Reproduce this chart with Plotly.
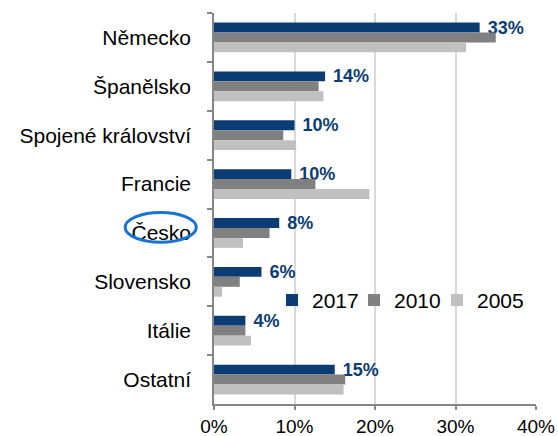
import plotly.graph_objects as go

categories = ["Německo", "Španělsko", "Spojené království", "Francie",
              "Česko", "Slovensko", "Itálie", "Ostatní"]
share_2017 = [33.0, 13.8, 10.0, 9.6, 8.1, 5.9, 3.9, 15.0]
share_2010 = [35.0, 13.0, 8.6, 12.6, 6.9, 3.2, 3.9, 16.3]
share_2005 = [31.3, 13.6, 10.2, 19.3, 3.6, 1.0, 4.6, 16.1]
x_ticks = [0, 10, 20, 30, 40]
x_tick_labels = ["0%", "10%", "20%", "30%", "40%"]

C2017 = "#0B3D74"
C2010 = "#808080"
C2005 = "#C0C0C0"
FONT = "Arial, Liberation Sans, sans-serif"

fig = go.Figure()
fig.add_trace(go.Bar(
    y=categories, x=share_2017, name="2017", orientation="h",
    marker=dict(color=C2017, line=dict(width=0)),
    texttemplate=" %{x:.0f}%", textposition="outside", cliponaxis=False,
    constraintext="none",
    textfont=dict(family=FONT, size=18, color=C2017, weight="bold"),
    legend="legend",
))
fig.add_trace(go.Bar(
    y=categories, x=share_2010, name="2010", orientation="h",
    marker=dict(color=C2010, line=dict(width=0)),
    legend="legend2",
))
fig.add_trace(go.Bar(
    y=categories, x=share_2005, name="2005", orientation="h",
    marker=dict(color=C2005, line=dict(width=0)),
    legend="legend3",
))

fig.add_shape(type="circle", xref="paper", yref="y",
              x0=-0.276, x1=-0.055, y0=3.58, y1=4.19,
              line=dict(color="#1874D2", width=3))

PW = 322.0  # plot width in px, for legend placement in paper units


def leg(px_left):
    return dict(orientation="h", x=(px_left - 214) / PW, xanchor="left",
                y=0.265, yanchor="middle",
                font=dict(family=FONT, size=21, color="black"),
                bgcolor="rgba(0,0,0,0)", itemwidth=30)


fig.update_layout(
    template="none",
    width=558, height=436,
    margin=dict(l=214, r=22, t=13, b=32, autoexpand=False),
    paper_bgcolor="white", plot_bgcolor="white",
    barmode="group", bargap=0.39, bargroupgap=0,
    font=dict(family=FONT, size=20, color="black"),
    showlegend=True,
    legend=leg(272),
    legend2=leg(354),
    legend3=leg(437),
    xaxis=dict(range=[0, 40], tickvals=x_ticks, ticktext=x_tick_labels,
               showgrid=True, gridcolor="#D9D9D9", gridwidth=1.5,
               showline=True, linecolor="#868686", linewidth=1.5,
               ticks="outside", ticklen=4, tickcolor="#868686", tickwidth=1.5,
               tickfont=dict(size=19), zeroline=False, automargin=False),
    yaxis=dict(range=[7.5, -0.5], showline=True, linecolor="#868686",
               linewidth=1.5, ticks="outside", ticklen=5, tickcolor="#868686",
               tickwidth=1.5, tickson="boundaries", ticklabelstandoff=17,
               tickfont=dict(size=21), showgrid=False, zeroline=False,
               automargin=False),
)

fig.write_html("out.html",
               config={"displayModeBar": False},
               post_script="document.body.style.margin='0';"
                           "document.body.style.overflow='hidden';")
